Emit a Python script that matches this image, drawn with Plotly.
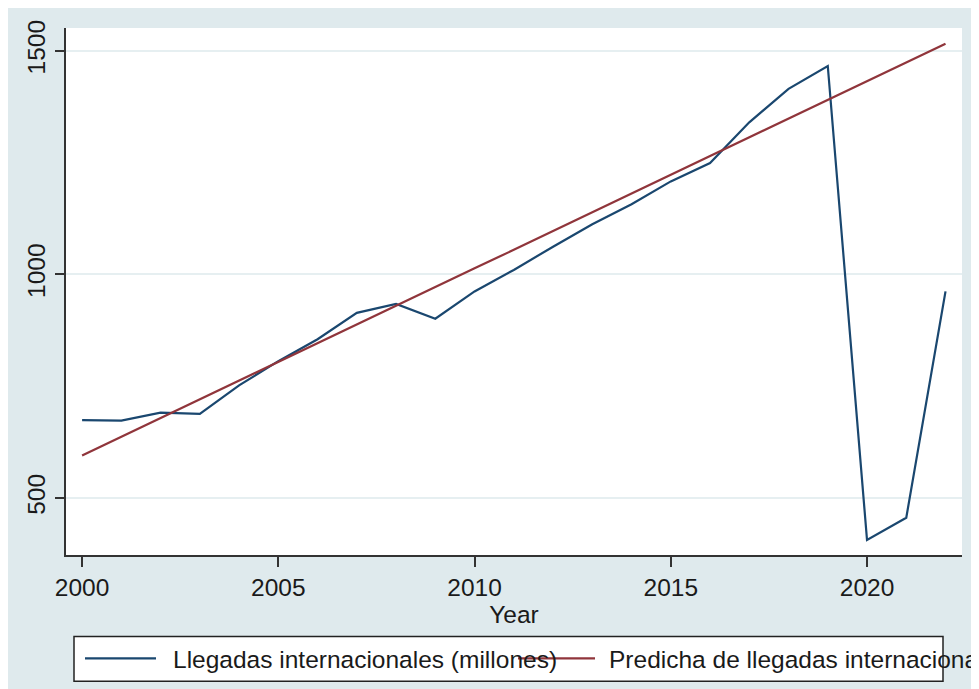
import plotly.graph_objects as go

years = list(range(2000, 2023))
arrivals = [674, 673, 691, 688, 752, 806, 855, 914, 934, 901, 962, 1010,
            1062, 1112, 1157, 1208, 1249, 1340, 1415, 1466, 406, 456, 962]
predicted = [595, 637, 679, 721, 762, 804, 846, 888, 930, 972, 1014, 1055,
             1097, 1139, 1181, 1223, 1265, 1307, 1348, 1390, 1432, 1474, 1516]
x_ticks = [2000, 2005, 2010, 2015, 2020]
y_ticks = [500, 1000, 1500]
name_actual = "Llegadas internacionales (millones)"
name_pred = "Predicha de llegadas internacionales (millones)"

BLUE = "#1a476f"
RED = "#90353b"
BG = "#dfeaed"
FONT = "Liberation Sans, Arial, sans-serif"
TXT = "#1a1a1a"
FS = 24.5

# figure coordinates (the page adds an 8 px body margin)
W, H = 979, 689
L, R, T, B = 58, 25, 17, 142
pw, ph = W - L - R, H - T - B

def px(x):
    return (x - L) / pw

def py(y):
    return (H - B - y) / ph

fig = go.Figure()
fig.add_trace(go.Scatter(x=years, y=arrivals, mode="lines", name=name_actual,
                         line=dict(color=BLUE, width=2.2), showlegend=False))
fig.add_trace(go.Scatter(x=years, y=predicted, mode="lines", name=name_pred,
                         line=dict(color=RED, width=2.2), showlegend=False))

shapes = []
# legend box
shapes.append(dict(type="rect", xref="paper", yref="paper", x0=px(66), x1=px(935),
                   y0=py(674), y1=py(629), fillcolor="white",
                   line=dict(color="#222", width=1.5), layer="above"))

annotations = [
    dict(xref="paper", yref="paper", x=px(163), y=py(652), xanchor="left", yanchor="middle",
         text=name_actual, showarrow=False, font=dict(family=FONT, size=FS, color=TXT)),
    dict(xref="paper", yref="paper", x=px(599), y=py(652), xanchor="left", yanchor="middle",
         text=name_pred, showarrow=False, font=dict(family=FONT, size=FS, color=TXT)),
]
shapes.append(dict(type="line", xref="paper", yref="paper", x0=px(77), x1=px(148),
                   y0=py(651), y1=py(651), line=dict(color=BLUE, width=2.2), layer="above"))
shapes.append(dict(type="line", xref="paper", yref="paper", x0=px(510), x1=px(587),
                   y0=py(651), y1=py(651), line=dict(color=RED, width=2.2), layer="above"))

fig.update_layout(
    width=W, height=H, autosize=False,
    margin=dict(l=L, r=R, t=T, b=B),
    paper_bgcolor=BG, plot_bgcolor="white",
    font=dict(family=FONT, size=FS, color=TXT),
    shapes=shapes, annotations=annotations,
    showlegend=False,
    xaxis=dict(range=[1999.59, 2022.42], tickvals=x_ticks, ticks="outside", ticklen=10,
               tickwidth=1.5, tickcolor="#333", showline=True, linecolor="#333", linewidth=2,
               showgrid=False, zeroline=False, tickfont=dict(size=FS),
               title=dict(text="Year", font=dict(size=FS), standoff=0)),
    yaxis=dict(range=[372.6, 1551], tickvals=y_ticks, ticks="outside", ticklen=9,
               tickwidth=1.5, tickcolor="#333", showline=True, linecolor="#333", linewidth=2,
               showgrid=True, gridcolor="#e6eff1", gridwidth=1.5, zeroline=False,
               tickangle=-90, tickfont=dict(size=FS)),
)

fig.write_html("out.html")
